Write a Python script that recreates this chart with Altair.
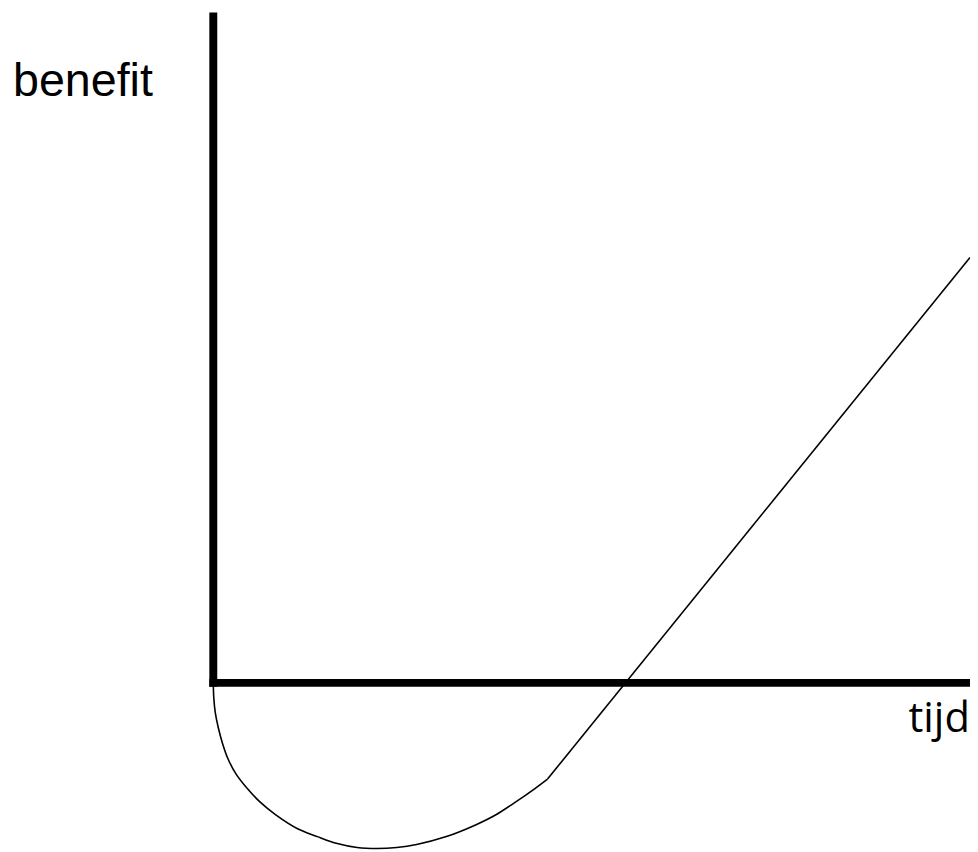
import altair as alt
import pandas as pd

# Curve (x: tijd, y: benefit; origin at the axis crossing)
curve_x = [0, 0.5, 2, 5, 9, 15, 23, 33, 47, 63, 85, 105, 125, 145, 165, 185,
           205, 235, 265, 285, 305, 325, 337, 763]
curve_y = [0, -15, -30, -45, -60, -77, -92, -105, -120, -133, -147, -155, -162,
           -166, -167, -166, -163, -155, -143, -133, -120, -106, -97, 429]
KINK = 22  # index where the curved part turns into the straight line

# Axis lines (thick rules)
axis_x = [0, -4]
axis_x2 = [0, 775]
axis_y = [-4, 0]
axis_y2 = [676, 0]

# Labels
label_text = ["benefit", "tijd"]
label_x = [-202, 701]
label_y = [592, -50]
label_font = ["Liberation Sans", "Open Sans"]
label_size = [47, 42]

W, H = 970, 844
X_DOMAIN = [-207, 763]
Y_DOMAIN = [-167, 677]

xs = alt.Scale(domain=X_DOMAIN, nice=False, zero=False)
ys = alt.Scale(domain=Y_DOMAIN, nice=False, zero=False)

curve = pd.DataFrame({"x": curve_x, "y": curve_y, "i": range(len(curve_x))})
bend = curve.iloc[: KINK + 1]
straight = curve.iloc[KINK:]
axes = pd.DataFrame({"x": axis_x, "x2": axis_x2, "y": axis_y, "y2": axis_y2})
labels = pd.DataFrame({"t": label_text, "x": label_x, "y": label_y})

line_bend = alt.Chart(bend).mark_line(color="black", strokeWidth=1.6, interpolate="catmull-rom").encode(
    x=alt.X("x:Q", scale=xs, axis=None),
    y=alt.Y("y:Q", scale=ys, axis=None),
    order="i:Q",
)
line_straight = alt.Chart(straight).mark_line(color="black", strokeWidth=1.6, interpolate="linear").encode(
    x=alt.X("x:Q", scale=xs, axis=None),
    y=alt.Y("y:Q", scale=ys, axis=None),
    order="i:Q",
)

rules = alt.Chart(axes).mark_rule(color="black", strokeWidth=8, strokeCap="butt").encode(
    x=alt.X("x:Q", scale=xs, axis=None),
    x2="x2:Q",
    y=alt.Y("y:Q", scale=ys, axis=None),
    y2="y2:Q",
)

lab1 = alt.Chart(labels.iloc[[0]]).mark_text(
    font=label_font[0], fontSize=label_size[0], align="left", baseline="alphabetic", color="black"
).encode(x=alt.X("x:Q", scale=xs, axis=None), y=alt.Y("y:Q", scale=ys, axis=None), text="t:N")

lab2 = alt.Chart(labels.iloc[[1]]).mark_text(
    font=label_font[1], fontSize=label_size[1], align="left", baseline="alphabetic", color="black"
).encode(x=alt.X("x:Q", scale=xs, axis=None), y=alt.Y("y:Q", scale=ys, axis=None), text="t:N")

chart = alt.layer(line_bend, line_straight, rules, lab1, lab2).properties(
    width=W, height=H, padding=0, autosize=alt.AutoSizeParams(type="none"),
    background="white",
).configure_view(stroke=None)

chart.save("out.html", embed_options={"renderer": "svg", "actions": False})
